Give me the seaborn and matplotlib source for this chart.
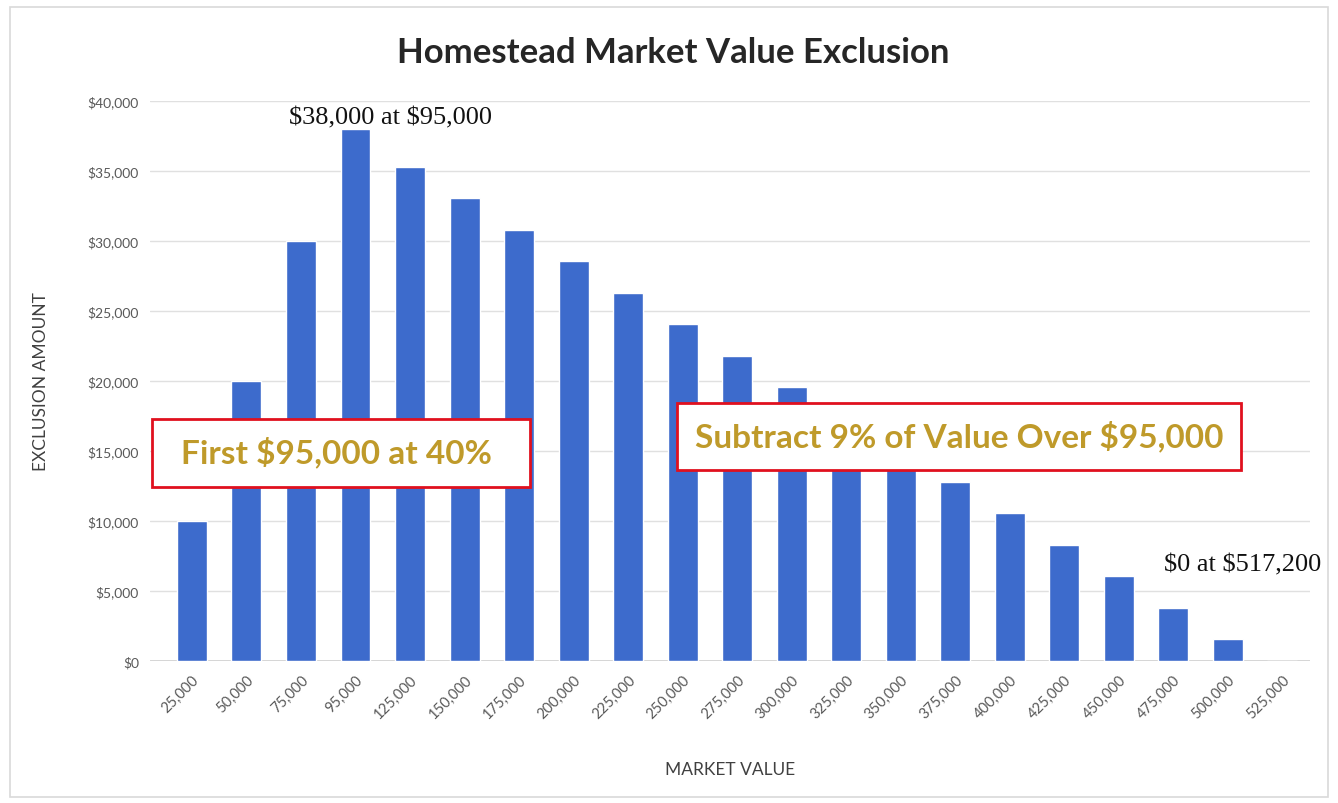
import matplotlib
matplotlib.use("Agg")
import matplotlib.pyplot as plt
import matplotlib.patches as patches
import seaborn as sns
import pandas as pd

market_values = ["25,000", "50,000", "75,000", "95,000", "125,000", "150,000", "175,000",
                 "200,000", "225,000", "250,000", "275,000", "300,000", "325,000", "350,000",
                 "375,000", "400,000", "425,000", "450,000", "475,000", "500,000", "525,000"]
exclusion = [10000, 20000, 30000, 38000, 35300, 33050, 30800, 28550, 26300, 24050, 21800,
             19550, 17300, 15050, 12800, 10550, 8300, 6050, 3800, 1550, 0]
y_ticks = [0, 5000, 10000, 15000, 20000, 25000, 30000, 35000, 40000]

data = pd.DataFrame({"Market Value": market_values, "Exclusion": exclusion})

sns.set_style("white")
plt.rcParams['font.family'] = ['Lato', 'DejaVu Sans']

fig = plt.figure(figsize=(13.38, 8.04), dpi=100)
ax = fig.add_axes([150 / 1338, 142 / 804, 1160 / 1338, 560 / 804])

sns.barplot(data=data, x="Market Value", y="Exclusion", order=market_values,
            color="#3d6bcc", width=0.55, saturation=1, ax=ax, zorder=3)

ax.set_xlim(-0.77, 20.51)
ax.set_ylim(0, 40000)
ax.set_yticks(y_ticks)
ax.set_yticklabels([f"${v:,}" for v in y_ticks], color="#595959", fontsize=10)
ax.set_xticks(range(len(market_values)))
ax.set_xticklabels(market_values, rotation=45, ha="right", rotation_mode="anchor",
                   color="#595959", fontsize=10.5)
ax.tick_params(axis="both", length=0, pad=8)
ax.grid(axis="y", color="#e0e0e0", linewidth=1, zorder=0)
for s in ax.spines.values():
    s.set_visible(False)
ax.axhline(0, color="#d0d0d0", linewidth=1.2, zorder=2)

ax.set_xlabel("MARKET VALUE", color="#404040", fontsize=12.5, labelpad=29)
ax.set_ylabel("EXCLUSION AMOUNT", color="#404040", fontsize=12.5, labelpad=28)

fig.text(0.503, 0.934, "Homestead Market Value Exclusion", ha="center", va="center",
         fontsize=25, fontweight="bold", color="#262626")

ax.text(3.65, 38860, "\\$38,000 at \\$95,000", ha="center", va="center",
        fontsize=19, family=["Liberation Serif"], color="#111111")
ax.text(19.28, 6900, "\\$0 at \\$517,200", ha="center", va="center",
        fontsize=19, family=["Liberation Serif"], color="#111111")

# callout boxes
box_color = "#e0101e"
gold = "#bf9a2a"
fig.patches.append(patches.Rectangle((152 / 1338, 316 / 804), 378 / 1338, 68 / 804,
                                     transform=fig.transFigure, facecolor="white",
                                     edgecolor=box_color, linewidth=2, zorder=5))
fig.text(336 / 1338, 352 / 804, "First \\$95,000 at 40%", ha="center", va="center",
         fontsize=24, fontweight="bold", color=gold, zorder=6)
fig.patches.append(patches.Rectangle((677 / 1338, 333 / 804), 564 / 1338, 67 / 804,
                                     transform=fig.transFigure, facecolor="white",
                                     edgecolor=box_color, linewidth=2, zorder=5))
fig.text(959 / 1338, 368 / 804, "Subtract 9% of Value Over \\$95,000", ha="center", va="center",
         fontsize=24, fontweight="bold", color=gold, zorder=6)

# outer chart border
fig.patches.append(patches.Rectangle((10 / 1338, 6 / 804), 1318 / 1338, 790 / 804,
                                     transform=fig.transFigure, facecolor="none",
                                     edgecolor="#d9d9d9", linewidth=1.2, zorder=0))

fig.savefig("out.png", dpi=100, facecolor="white")
